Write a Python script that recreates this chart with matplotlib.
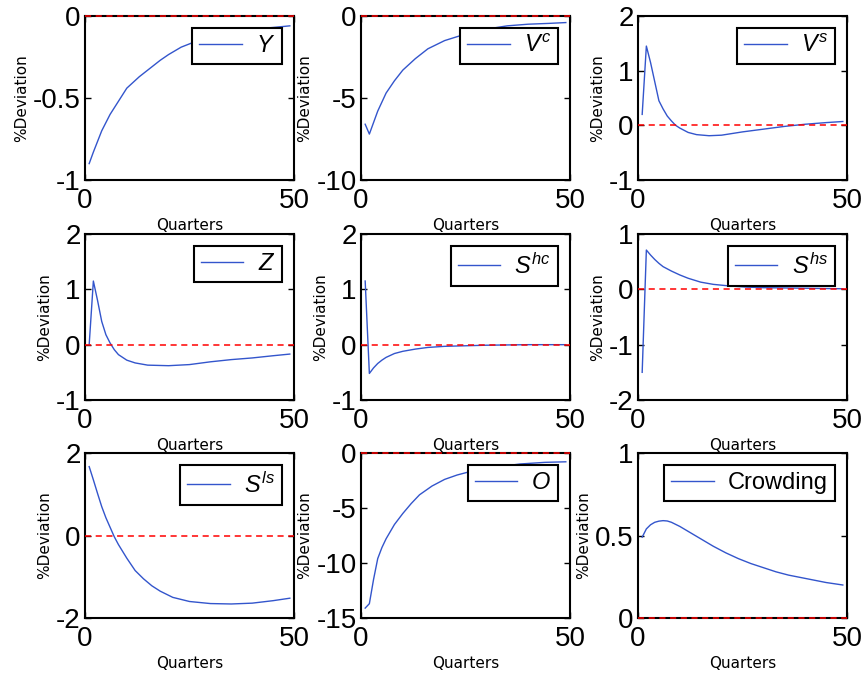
import matplotlib
matplotlib.use("Agg")
import matplotlib.pyplot as plt
from matplotlib import font_manager

# impulse responses (quarters, % deviation)
t_y = [1, 2, 4, 6, 8, 10, 13, 16, 18, 20, 23, 26, 30, 35, 40, 45, 49]
y_vals = [-0.90, -0.83, -0.70, -0.60, -0.52, -0.44, -0.37, -0.31, -0.27, -0.235, -0.19, -0.16, -0.13, -0.10, -0.08, -0.07, -0.06]

t_vc = [1, 2, 4, 6, 8, 10, 13, 16, 20, 25, 30, 35, 40, 45, 49]
vc_vals = [-6.6, -7.2, -5.8, -4.7, -3.95, -3.3, -2.6, -2.0, -1.5, -1.1, -0.8, -0.6, -0.5, -0.45, -0.4]

t_vs = [1, 2, 3, 4, 5, 6, 7, 8, 9, 10, 12, 14, 17, 20, 25, 30, 35, 40, 45, 49]
vs_vals = [0.2, 1.45, 1.15, 0.8, 0.45, 0.3, 0.17, 0.08, 0.0, -0.05, -0.13, -0.17, -0.19, -0.18, -0.12, -0.07, -0.02, 0.02, 0.05, 0.07]

t_z = [1, 2, 3, 4, 5, 6, 7, 8, 10, 12, 15, 20, 25, 30, 35, 40, 45, 49]
z_vals = [0.0, 1.15, 0.8, 0.42, 0.18, 0.03, -0.09, -0.18, -0.28, -0.33, -0.37, -0.38, -0.36, -0.31, -0.27, -0.24, -0.2, -0.17]

t_shc = [1, 2, 3, 4, 5, 6, 8, 10, 13, 16, 20, 25, 30, 40, 49]
shc_vals = [1.15, -0.52, -0.42, -0.34, -0.28, -0.23, -0.16, -0.12, -0.08, -0.05, -0.03, -0.02, -0.01, 0.0, 0.0]

t_shs = [1, 2, 3, 4, 5, 6, 8, 10, 12, 15, 18, 22, 26, 30, 40, 49]
shs_vals = [-1.5, 0.71, 0.62, 0.54, 0.47, 0.41, 0.33, 0.26, 0.2, 0.13, 0.09, 0.06, 0.04, 0.03, 0.02, 0.01]

t_sls = [1, 2, 3, 4, 5, 6, 7, 8, 10, 12, 14, 16, 18, 21, 25, 30, 35, 40, 45, 49]
sls_vals = [1.67, 1.35, 1.02, 0.7, 0.43, 0.2, -0.03, -0.22, -0.55, -0.85, -1.05, -1.22, -1.35, -1.5, -1.6, -1.65, -1.66, -1.64, -1.58, -1.52]

t_o = [1, 2, 3, 4, 5, 6, 8, 10, 12, 14, 17, 20, 23, 27, 32, 38, 44, 49]
o_vals = [-14.1, -13.7, -11.5, -9.6, -8.6, -7.8, -6.5, -5.5, -4.6, -3.8, -3.0, -2.4, -2.0, -1.6, -1.3, -1.0, -0.85, -0.8]

t_crowd = [1, 2, 3, 4, 5, 6, 7, 8, 10, 12, 15, 18, 21, 24, 27, 30, 33, 36, 40, 45, 49]
crowd_vals = [0.49, 0.54, 0.565, 0.58, 0.587, 0.59, 0.588, 0.58, 0.555, 0.525, 0.48, 0.435, 0.395, 0.36, 0.33, 0.305, 0.28, 0.26, 0.24, 0.215, 0.2]

labels = [r'$Y$', r'$V^c$', r'$V^s$', r'$Z$', r'$S^{hc}$', r'$S^{hs}$', r'$S^{ls}$', r'$O$', 'Crowding']
series_t = [t_y, t_vc, t_vs, t_z, t_shc, t_shs, t_sls, t_o, t_crowd]
series_v = [y_vals, vc_vals, vs_vals, z_vals, shc_vals, shs_vals, sls_vals, o_vals, crowd_vals]
yticks = [[-1, -0.5, 0], [-10, -5, 0], [-1, 0, 1, 2],
          [-1, 0, 1, 2], [-1, 0, 1, 2], [-2, -1, 0, 1],
          [-2, 0, 2], [-15, -10, -5, 0], [0, 0.5, 1]]

# narrow font for the tick numbers if there is one
installed = {f.name for f in font_manager.fontManager.ttflist}
tick_font = 'Liberation Sans'
for name in ['Liberation Sans Narrow', 'Arial Narrow', 'Nimbus Sans Narrow']:
    if name in installed:
        tick_font = name
        break

plt.rcParams['font.family'] = [tick_font, 'DejaVu Sans']
plt.rcParams['mathtext.fontset'] = 'custom'
plt.rcParams['mathtext.it'] = 'Liberation Sans:italic'
plt.rcParams['mathtext.rm'] = 'Liberation Sans'

W, H = 862, 676
fig = plt.figure(figsize=(W / 100, H / 100), dpi=100)

lefts = [85, 361, 638]
tops = [16, 234, 453]
bottoms = [180, 400, 618]
blue = '#3355cc'

for i in range(9):
    r, c = divmod(i, 3)
    ax = fig.add_axes([lefts[c] / W, 1 - bottoms[r] / H, 209 / W, (bottoms[r] - tops[r]) / H])
    ax.patch.set_alpha(0)
    ax.plot(series_t[i], series_v[i], color=blue, lw=1.0, label=labels[i])
    ax.axhline(0, color='red', ls='--', lw=1.1, dashes=(4, 3), zorder=3, clip_on=False)
    ax.set_xlim(0, 50)
    ax.set_ylim(yticks[i][0], yticks[i][-1])
    ax.set_xticks([0, 50])
    ax.set_xticklabels(['0', '50'])
    ax.set_yticks(yticks[i])
    ax.set_yticklabels(['{:g}'.format(v) for v in yticks[i]])
    ax.tick_params(direction='in', length=4, width=1, right=True, top=True,
                   labelsize=20, pad=3)
    ax.tick_params(axis='x', pad=6)
    for s in ax.spines.values():
        s.set_linewidth(1.5)
    ax.set_xlabel('Quarters', fontsize=11, family='DejaVu Sans', labelpad=3)
    ax.set_ylabel('%Deviation', fontsize=11, family='DejaVu Sans', labelpad=3)
    leg = ax.legend(loc='upper right', handlelength=1.8,
                    borderpad=0.3, handletextpad=0.6, borderaxespad=0.5,
                    fancybox=False, framealpha=1, edgecolor='black',
                    prop={'family': 'Liberation Sans', 'size': 17})
    leg.get_frame().set_linewidth(1.5)
    leg.set_zorder(4)

fig.savefig('out.png', dpi=100)
